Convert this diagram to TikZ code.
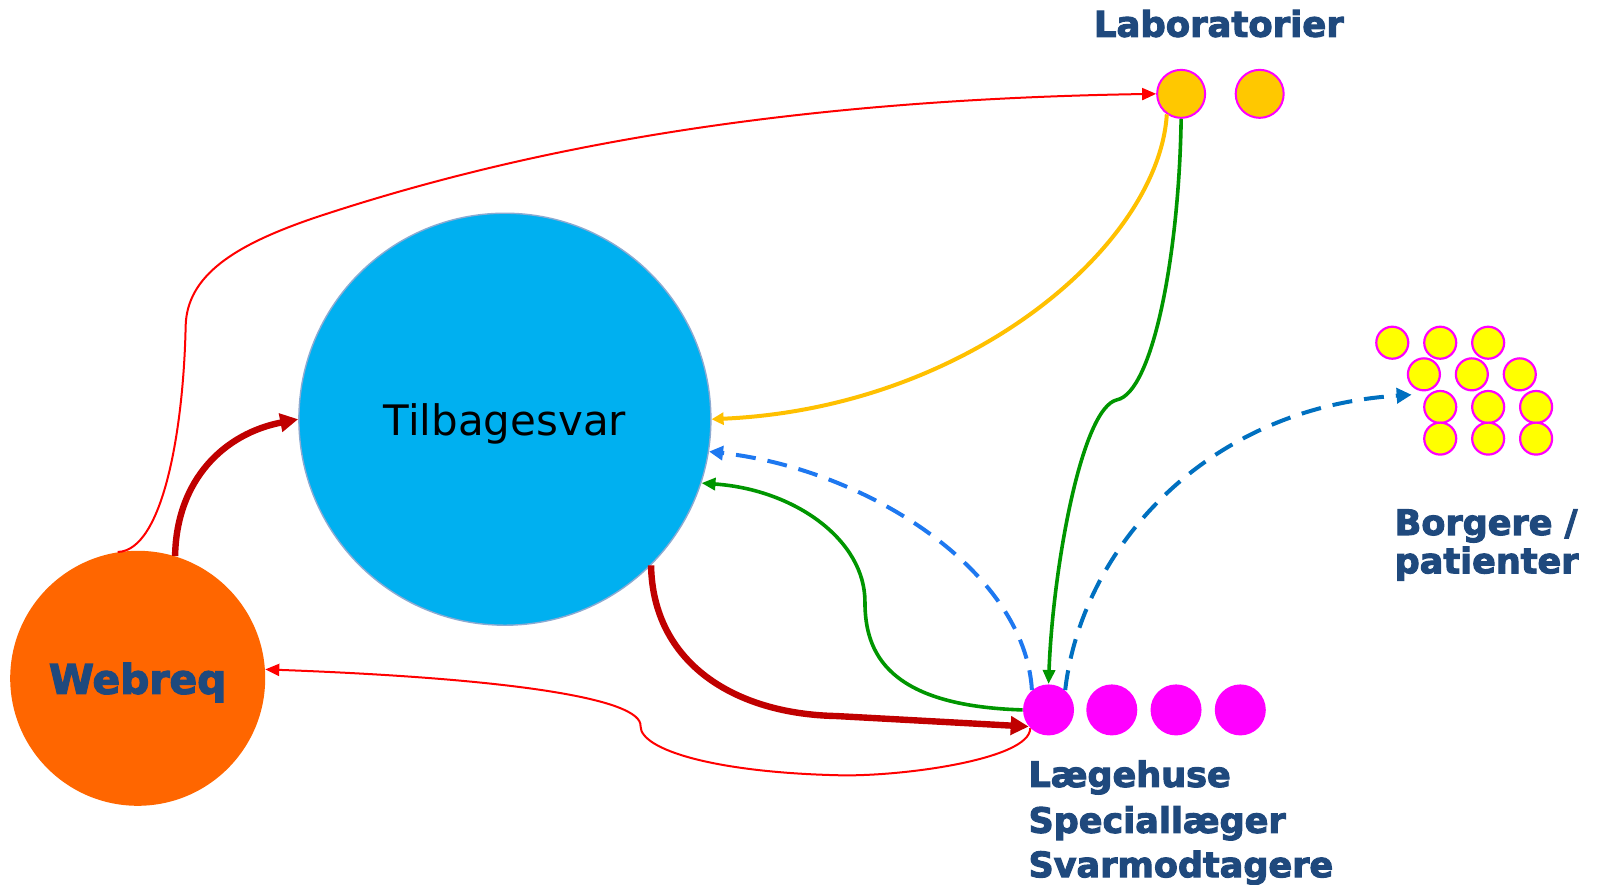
\documentclass[tikz,border=0pt]{standalone}
\usepackage{fontspec}
\setmainfont{DejaVu Sans}
\newfontfamily\heavyfont{DejaVu Sans}[BoldFeatures={FakeBold=3}]
\usetikzlibrary{arrows.meta}
\definecolor{txtblue}{RGB}{31,73,125}
\definecolor{tbfill}{RGB}{0,176,240}
\definecolor{tbedge}{RGB}{140,170,210}
\definecolor{webfill}{RGB}{255,102,0}
\definecolor{labfill}{RGB}{255,200,0}
\definecolor{mag}{RGB}{255,0,255}
\definecolor{ylw}{RGB}{255,255,0}
\definecolor{darkred}{RGB}{192,0,0}
\definecolor{brightred}{RGB}{255,0,0}
\definecolor{orangeline}{RGB}{255,192,0}
\definecolor{greenline}{RGB}{0,150,0}
\definecolor{bluelight}{RGB}{30,120,240}
\definecolor{bluedark}{RGB}{0,112,192}
\tikzset{
  bigcirc/.style={circle, inner sep=0pt, text depth=0pt},
  labcirc/.style={circle, inner sep=0pt, minimum size=24pt, fill=labfill, draw=mag, line width=1pt},
  magcirc/.style={circle, inner sep=0pt, minimum size=25.5pt, fill=mag},
  ylwcirc/.style={circle, inner sep=0pt, minimum size=16pt, fill=ylw, draw=mag, line width=1.1pt},
  boldlbl/.style={inner sep=0pt, text=txtblue, font=\heavyfont\bfseries\fontsize{17.5}{22.5}\selectfont},
  thinred/.style={draw=brightred, line width=1pt, -{Triangle[length=7pt,width=6pt]}},
  thickred/.style={draw=darkred, line width=3.2pt, -{Triangle[length=9pt,width=9pt]}},
  orangearr/.style={draw=orangeline, line width=2pt, -{Triangle[length=6pt,width=6pt]}},
  greenarr/.style={draw=greenline, line width=1.8pt, -{Triangle[length=7pt,width=6pt]}},
  dashlight/.style={draw=bluelight, line width=2pt, dash pattern=on 10pt off 6pt, -{Triangle[length=7pt,width=7pt]}},
  dashdark/.style={draw=bluedark, line width=2pt, dash pattern=on 10pt off 6pt, -{Triangle[length=7.5pt,width=7.5pt]}}
}
\begin{document}
\begin{tikzpicture}[x=0.51pt,y=-0.51pt]
\useasboundingbox (0,0) rectangle (1566.7,867.6);

% main circles
\node[bigcirc, fill=tbfill, draw=tbedge, line width=0.7pt, minimum size=206pt,
      font=\fontsize{21}{25}\selectfont] (tb) at (495,411) {Tilbagesvar};
\node[bigcirc, fill=webfill, minimum size=127.5pt, text=txtblue,
      font=\heavyfont\bfseries\fontsize{20.4}{24}\selectfont] (web) at (135,665) {Webreq};

% laboratories
\node[labcirc] (lab1) at (1158,92) {};
\node[labcirc] (lab2) at (1235,92) {};
\node[boldlbl, anchor=base, font=\heavyfont\bfseries\fontsize{17.7}{22}\selectfont] (lablbl) at (1195,36) {Laboratorier};

% doctors
\node[magcirc] (m1) at (1028,696) {};
\node[magcirc] (m2) at (1090,696) {};
\node[magcirc] (m3) at (1153,696) {};
\node[magcirc] (m4) at (1216,696) {};
\node[boldlbl, anchor=base west] (doc1) at (1008,771.5) {Lægehuse};
\node[boldlbl, anchor=base west] (doc2) at (1008,816.5) {Speciallæger};
\node[boldlbl, anchor=base west] (doc3) at (1008,860) {Svarmodtagere};

% citizens
\node[ylwcirc] (y1) at (1365,336) {};
\node[ylwcirc] (y2) at (1412,336) {};
\node[ylwcirc] (y3) at (1459,336) {};
\node[ylwcirc] (y4) at (1396,367) {};
\node[ylwcirc] (y5) at (1443,367) {};
\node[ylwcirc] (y6) at (1490,367) {};
\node[ylwcirc] (y7) at (1412,399) {};
\node[ylwcirc] (y8) at (1459,399) {};
\node[ylwcirc] (y9) at (1506,399) {};
\node[ylwcirc] (y10) at (1412,430) {};
\node[ylwcirc] (y11) at (1459,430) {};
\node[ylwcirc] (y12) at (1506,430) {};
\node[boldlbl, anchor=base west] (cit1) at (1367,524.5) {Borgere /};
\node[boldlbl, anchor=base west] (cit2) at (1367,562) {patienter};
\coordinate (bt) at (1384,387);

% connectors
\draw[thinred] (web.99) .. controls (160,540) and (180,420) .. (182,320)
   .. controls (183,270) and (230,240) .. (310,213)
   .. controls (500,150) and (750,98) .. (lab1.west);
\draw[thickred] (web.73) .. controls (173,470) and (220,425) .. (tb.180);
\draw[thickred] (tb.-45) .. controls (640,650) and (720,700) .. (820,702) -- (m1.220);
\draw[thinred] (m1.225) .. controls (1010,745) and (880,762) .. (820,760)
   .. controls (700,757) and (628,735) .. (628,712)
   .. controls (630,685) and (500,665) .. (web.4);
\draw[orangearr] (lab1.235) .. controls (1136,240) and (950,400) .. (tb.0);
\draw[greenarr] (lab1.270) .. controls (1156,250) and (1130,385) .. (1095,392)
   .. controls (1060,400) and (1032,560) .. (m1.90);
\draw[greenarr] (m1.180) .. controls (870,692) and (848,640) .. (848,590)
   .. controls (848,530) and (780,480) .. (tb.-18);
\draw[dashlight] (m1.130) .. controls (1005,560) and (850,460) .. (tb.-9);
\draw[dashdark] (m1.50) .. controls (1060,540) and (1180,400) .. (bt);
\end{tikzpicture}
\end{document}
